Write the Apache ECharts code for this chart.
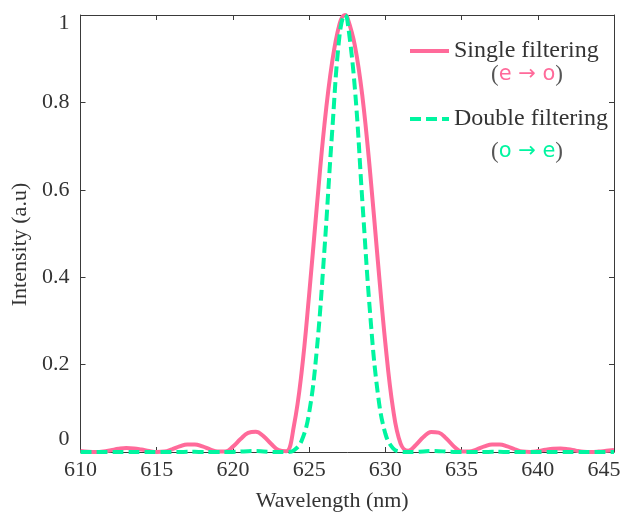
<!DOCTYPE html>
<html>
<head>
<meta charset="utf-8">
<script src="https://cdn.jsdelivr.net/npm/echarts@6/dist/echarts.min.js"></script>
<style>html,body{margin:0;padding:0;background:#fff}#c{width:623px;height:513px}</style>
</head>
<body>
<div id="c"></div>
<script>
// Wavelength sample points (nm)
var wavelengths = [610,610.5,611,611.5,612,612.5,613,613.5,614,614.5,615,615.5,616,616.5,617,617.5,618,618.5,619,619.5,620,620.5,621,621.5,622,622.5,623,623.5,624,624.5,625,625.5,626,626.5,627,627.35,627.5,628,628.5,629,629.5,630,630.5,631,631.5,632,632.5,633,633.5,634,634.5,635,635.5,636,636.5,637,637.5,638,638.5,639,639.5,640,640.5,641,641.5,642,642.5,643,643.5,644,644.5,645];
// Single filtering (e -> o) intensity
var singleFiltering = [0.0024,0.0007,0,0.0012,0.0042,0.0073,0.0090,0.0082,0.0055,0.0023,0.0002,0.0009,0.0060,0.0127,0.0174,0.0174,0.0127,0.0060,0.0009,0.0011,0.0123,0.0297,0.0437,0.0463,0.0363,0.0190,0.0043,0.002,0.06,0.181,0.36,0.56,0.748,0.89,0.98,1,0.995,0.93,0.812,0.64,0.44,0.249,0.10,0.019,0.0026,0.0162,0.0342,0.0459,0.0444,0.0308,0.0128,0.0012,0.0009,0.0060,0.0127,0.0174,0.0174,0.0127,0.0060,0.0009,0.0002,0.0021,0.0051,0.0074,0.0079,0.0062,0.0032,0.0007,0,0.0010,0.0028,0.0044];
// Double filtering (o -> e) intensity
var doubleFiltering = [0,0,0,0,0,0,0,0,0,0,0,0,0,0,0.0003,0.0003,0.0002,0,0,0,0.0002,0.0009,0.0019,0.0021,0.0013,0.0004,0,0,0.004,0.025,0.09,0.233,0.461,0.728,0.955,1,0.99,0.832,0.569,0.317,0.1355,0.042,0.0087,0.0006,0,0.0003,0.0012,0.0021,0.002,0.0009,0.0002,0,0,0,0.0002,0.0003,0.0003,0.0002,0,0,0,0,0,0,0,0,0,0,0,0,0,0];
var xTicks = [610,615,620,625,630,635,640,645];
var yTicks = [0,0.2,0.4,0.6,0.8,1];

var PINK = '#FF6A9A', GREEN = '#00F5A0', AXIS = '#3a3a3a', TXT = '#333';
var SERIF = '"Liberation Serif","Times New Roman",serif';
var SANS = '"DejaVu Sans","Noto Sans",sans-serif';

function pairs(ys){ return wavelengths.map(function(x,i){ return [x, ys[i]]; }); }

var chart = echarts.init(document.getElementById('c'), null, {renderer:'canvas'});
chart.setOption({
  animation:false,
  backgroundColor:'#fff',
  grid:{left:80.5, right:9, top:15, bottom:61, containLabel:false, outerBoundsMode:'none'},
  xAxis:[{
    type:'value', min:610, max:645, interval:5, position:'bottom',
    axisLine:{show:true, onZero:false, lineStyle:{color:AXIS, width:1}},
    axisTick:{show:true, inside:true, length:5, lineStyle:{color:AXIS}},
    splitLine:{show:false},
    axisLabel:{
      margin:7, fontSize:22, fontFamily:SERIF, color:TXT, hideOverlap:false,
      formatter:function(v){ return v===645 ? '{r|645}' : String(v); },
      rich:{r:{fontSize:22, fontFamily:SERIF, color:TXT, padding:[0,20,0,0]}}
    },
    name:'Wavelength (nm)', nameLocation:'middle', nameGap:38,
    nameTextStyle:{fontSize:22, fontFamily:SERIF, color:TXT, padding:[0,30,0,0]}
  },{
    type:'value', min:610, max:645, interval:5, position:'top',
    axisLine:{show:true, onZero:false, lineStyle:{color:AXIS, width:1}},
    axisTick:{show:true, inside:true, length:5, lineStyle:{color:AXIS}},
    axisLabel:{show:false}, splitLine:{show:false}
  }],
  yAxis:[{
    type:'value', min:0, max:1, interval:0.2, position:'left',
    axisLine:{show:true, onZero:false, lineStyle:{color:AXIS, width:1}},
    axisTick:{show:true, inside:true, length:5, lineStyle:{color:AXIS}},
    splitLine:{show:false},
    axisLabel:{
      margin:11, fontSize:22, fontFamily:SERIF, color:TXT, hideOverlap:false,
      formatter:function(v){ if(v===1) return '{t|1}'; if(v===0) return '{b|0}'; return String(v); },
      rich:{
        t:{fontSize:22, fontFamily:SERIF, color:TXT, padding:[16,0,0,0]},
        b:{fontSize:22, fontFamily:SERIF, color:TXT, padding:[0,0,26,0]}
      }
    },
    name:'Intensity (a.u)', nameLocation:'middle', nameGap:45,
    nameTextStyle:{fontSize:22, fontFamily:SERIF, color:TXT, padding:[0,22,0,0]}
  },{
    type:'value', min:0, max:1, interval:0.2, position:'right',
    axisLine:{show:true, onZero:false, lineStyle:{color:AXIS, width:1}},
    axisTick:{show:true, inside:true, length:5, lineStyle:{color:AXIS}},
    axisLabel:{show:false}, splitLine:{show:false}
  }],
  legend:{
    orient:'vertical', left:403, top:34, itemWidth:39, itemHeight:14, itemGap:44,
    itemStyle:{opacity:0, color:'rgba(0,0,0,0)', borderWidth:0},
    lineStyle:{width:4},
    textStyle:{fontSize:24, fontFamily:SERIF, color:TXT, padding:[0,0,0,0]},
    data:['Single filtering','Double filtering']
  },
  graphic:[
    {type:'text', style:{x:527, y:75, align:'center', verticalAlign:'middle',
      text:'{p|(}{c|e → o}{p|)}',
      rich:{p:{fontSize:23, fontFamily:SERIF, fill:'#555'}, c:{fontSize:21, fontFamily:SANS, fill:PINK}}}},
    {type:'text', style:{x:527, y:152, align:'center', verticalAlign:'middle',
      text:'{p|(}{c|o → e}{p|)}',
      rich:{p:{fontSize:23, fontFamily:SERIF, fill:'#555'}, c:{fontSize:21, fontFamily:SANS, fill:GREEN}}}}
  ],
  series:[{
    name:'Single filtering', type:'line', data:pairs(singleFiltering),
    smooth:0.4, symbol:'none', clip:true,
    lineStyle:{color:PINK, width:4}, itemStyle:{color:PINK}, z:2
  },{
    name:'Double filtering', type:'line', data:pairs(doubleFiltering),
    smooth:0.4, symbol:'none', clip:true,
    lineStyle:{color:GREEN, width:4, type:[11,5]}, itemStyle:{color:GREEN}, z:3
  }]
});
</script>
</body>
</html>
